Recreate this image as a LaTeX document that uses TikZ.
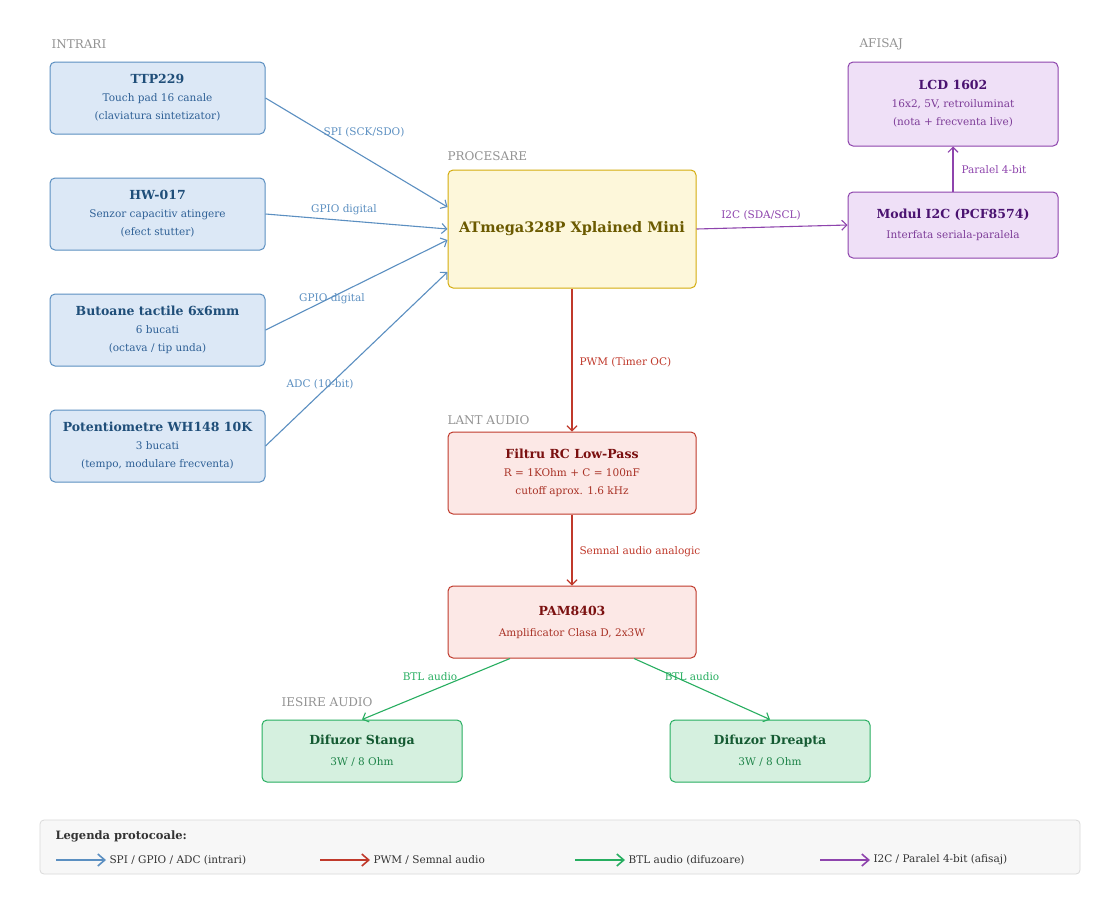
\documentclass[tikz,border=0pt]{standalone}
\usepackage{fontspec}
\setmainfont{DejaVu Serif}
\usetikzlibrary{arrows.meta,calc}

\definecolor{inB}{HTML}{5B8FC1}\definecolor{inF}{HTML}{DCE8F6}
\definecolor{inT}{HTML}{1F4E79}\definecolor{inS}{HTML}{2E6096}
\definecolor{cpB}{HTML}{D4AC0D}\definecolor{cpF}{HTML}{FDF7DA}\definecolor{cpT}{HTML}{6B5A00}
\definecolor{auB}{HTML}{C0392B}\definecolor{auF}{HTML}{FCE8E6}
\definecolor{auT}{HTML}{7B1010}\definecolor{auS}{HTML}{A93226}
\definecolor{spB}{HTML}{27AE60}\definecolor{spF}{HTML}{D5F0DF}
\definecolor{spT}{HTML}{145A32}\definecolor{spS}{HTML}{1E8449}
\definecolor{lcB}{HTML}{8E44AD}\definecolor{lcF}{HTML}{EFE0F7}
\definecolor{lcT}{HTML}{4A1270}\definecolor{lcS}{HTML}{7D3C98}

\newcommand{\ttl}[1]{{\fontsize{12.5}{18}\selectfont\bfseries #1}}

\tikzset{
  box/.style={draw, rounded corners=5pt, line width=1pt, align=center, inner sep=0pt,
    font=\fontsize{10.5}{18}\selectfont},
  inbox/.style={box, draw=inB, fill=inF, text=inS, minimum width=215pt, minimum height=72pt},
  lcbox/.style={box, draw=lcB, fill=lcF, text=lcS, minimum width=210pt},
  aubox/.style={box, draw=auB, fill=auF, text=auS, minimum width=248pt},
  spbox/.style={box, draw=spB, fill=spF, text=spS, minimum width=200pt, minimum height=62pt},
  section/.style={text=gray!85, font=\fontsize{12}{14}\selectfont, anchor=west},
  lbl/.style={font=\fontsize{10.5}{12}\selectfont},
  conn/.style={line width=1.1pt, -{Straight Barb[length=5pt,width=10pt]}},
}

\begin{document}
\begin{tikzpicture}[x=1pt,y=-1pt]
\useasboundingbox[fill=white] (0,0) rectangle (1120,914);

% sectiuni
\node[section] (sIn) at (48,44) {INTRARI};
\node[section] (sOut) at (856,44) {AFISAJ};
\node[section] (sCpu) at (444,156) {PROCESARE};
\node[section] (sAud) at (444,420) {LANT AUDIO};
\node[section] (sSpk) at (278,702) {IESIRE AUDIO};

% intrari
\node[inbox] (ttp) at (157.5,98) {\textcolor{inT}{\ttl{TTP229}}\\Touch pad 16 canale\\(claviatura sintetizator)};
\node[inbox] (hw) at (157.5,214) {\textcolor{inT}{\ttl{HW-017}}\\Senzor capacitiv atingere\\(efect stutter)};
\node[inbox] (btn) at (157.5,330) {\textcolor{inT}{\ttl{Butoane tactile 6x6mm}}\\6 bucati\\(octava / tip unda)};
\node[inbox] (pot) at (157.5,446) {\textcolor{inT}{\ttl{Potentiometre WH148 10K}}\\3 bucati\\(tempo, modulare frecventa)};

% procesare
\node[box, draw=cpB, fill=cpF, text=cpT, minimum width=248pt, minimum height=118pt] (mcu) at (572,229)
  {{\fontsize{14.5}{17}\selectfont\bfseries ATmega328P Xplained Mini}};

% afisaj
\node[lcbox, minimum height=84pt] (lcd) at (953,104) {\textcolor{lcT}{\ttl{LCD 1602}}\\16x2, 5V, retroiluminat\\(nota + frecventa live)};
\node[lcbox, minimum height=66pt] (i2c) at (953,225) {\textcolor{lcT}{\ttl{Modul I2C (PCF8574)}}\\[2pt]Interfata seriala-paralela};

% lant audio
\node[aubox, minimum height=82pt] (rc) at (572,473) {\textcolor{auT}{\ttl{Filtru RC Low-Pass}}\\R = 1KOhm + C = 100nF\\cutoff aprox. 1.6 kHz};
\node[aubox, minimum height=72pt] (pam) at (572,622) {\textcolor{auT}{\ttl{PAM8403}}\\[3pt]Amplificator Clasa D, 2x3W};

% difuzoare
\node[spbox] (spL) at (362,751) {\textcolor{spT}{\ttl{Difuzor Stanga}}\\[3pt]3W / 8 Ohm};
\node[spbox] (spR) at (770,751) {\textcolor{spT}{\ttl{Difuzor Dreapta}}\\[3pt]3W / 8 Ohm};

% conexiuni intrari
\draw[conn, inB] (ttp.east) -- ([yshift=22pt]mcu.west);
\draw[conn, inB] (hw.east) -- (mcu.west);
\draw[conn, inB] (btn.east) -- ([yshift=-11pt]mcu.west);
\draw[conn, inB] (pot.east) -- ([yshift=-43pt]mcu.west);
\node[lbl, text=inB] (lSpi) at (364,132) {SPI (SCK/SDO)};
\node[lbl, text=inB] (lGp1) at (344,210) {GPIO digital};
\node[lbl, text=inB] (lGp2) at (332,299) {GPIO digital};
\node[lbl, text=inB] (lAdc) at (320,384) {ADC (10-bit)};

% conexiuni afisaj
\draw[conn, lcB] (mcu.east) -- (i2c.west);
\draw[conn, lcB] (i2c.north) -- (lcd.south);
\node[lbl, text=lcB] (lI2c) at (761,215) {I2C (SDA/SCL)};
\node[lbl, text=lcB, anchor=west] (lPar) at (958,170) {Paralel 4-bit};

% conexiuni audio
\draw[conn, auB] (mcu.south) -- (rc.north);
\draw[conn, auB] (rc.south) -- (pam.north);
\node[lbl, text=auB, anchor=west] (lPwm) at (576,362) {PWM (Timer OC)};
\node[lbl, text=auB, anchor=west] (lSem) at (576,552) {Semnal audio analogic};
\draw[conn, spB] ([xshift=-62pt]pam.south) -- (spL.north);
\draw[conn, spB] ([xshift=62pt]pam.south) -- (spR.north);
\node[lbl, text=spB] (lBtl1) at (430,677) {BTL audio};
\node[lbl, text=spB] (lBtl2) at (692,677) {BTL audio};

% legenda
\node[draw=gray!30, fill=gray!6, rounded corners=4pt, line width=0.8pt, minimum width=1040pt, minimum height=54pt, inner sep=0pt] (leg) at (560,847) {};
\node[anchor=west, text=black!80, font=\fontsize{11.5}{13}\selectfont\bfseries] (legT) at (52,836) {Legenda protocoale:};
\foreach \x/\c/\t [count=\i] in {56/inB/{SPI / GPIO / ADC (intrari)}, 320/auB/{PWM / Semnal audio}, 575/spB/{BTL audio (difuzoare)}, 820/lcB/{I2C / Paralel 4-bit (afisaj)}} {
  \coordinate (la\i) at (\x,860);
  \node[lbl, anchor=west, text=black!80] (lt\i) at (\x+50,860) {\t};
  \draw[line width=1.6pt, \c, -{Straight Barb[length=7pt,width=12pt]}] (la\i) -- (lt\i.west);
}
\end{tikzpicture}
\end{document}
